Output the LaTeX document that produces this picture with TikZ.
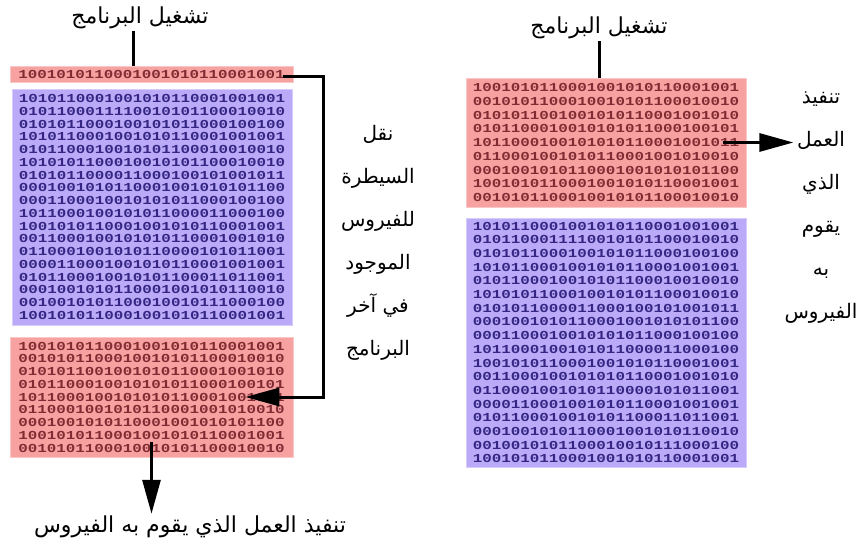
\documentclass[tikz,border=0pt]{standalone}
\usepackage{fontspec}
\usetikzlibrary{arrows.meta}
\TeXXeTstate=1
\newfontfamily\arabicfont[Script=Arabic]{DejaVu Sans}
\newfontfamily\bitfont[FakeStretch=1.3]{Liberation Mono}

\begin{document}
\begin{tikzpicture}[x=1pt,y=-1pt]
  \definecolor{hostbg}{RGB}{247,161,161}
  \definecolor{virbg}{RGB}{186,170,248}
  \definecolor{hostbit}{RGB}{128,44,50}
  \definecolor{virbit}{RGB}{52,38,130}
  \tikzstyle{host}=[fill=hostbg, draw=hostbg!60!white, line width=0.8pt, text=hostbit, align=center, inner sep=0pt, font={\bitfont\bfseries\fontsize{12.2}{12.75}\selectfont}]
  \tikzstyle{vir}=[fill=virbg, draw=virbg!60!white, line width=0.8pt, text=virbit, align=center, inner sep=0pt, font={\bitfont\bfseries\fontsize{12.2}{12.75}\selectfont}]
  \tikzstyle{say}=[align=center, inner sep=2pt, font={\arabicfont\fontsize{20}{43}\selectfont}]
  \tikzstyle{wire}=[line width=3pt]
  \tikzstyle{arr}=[wire, -{Triangle[length=34pt,width=18pt]}]

  \useasboundingbox (0,0) rectangle (864,545);

  % Left: the program with the virus appended, the first line jumps to it
  \node[say, font={\arabicfont\fontsize{22}{26}\selectfont}] (runL) at (140,18) {\beginR تشغيل البرنامج\endR};
  \node[host, minimum width=283pt, minimum height=16pt] (strip) at (151.5,74) {1001010110001001010110001001};
  \node[vir, minimum width=280pt, minimum height=236pt] (virL) at (152,207)
    {1010110001001010110001001001\\0101100011110010101100010010\\0101011000100101011000100100\\1010110001001010110001001001\\0101100010010101100010010010\\1010101100010010101100010010\\0101011000011000100101001011\\0001001010110001001010101100\\0001100010010101011000100100\\1011000100101011000011000100\\1001010110001001010110001001\\0011000100101010110001001010\\0110001001010110000101011001\\0000110001001010110001001001\\0101100010010101100011011001\\0001001010110001001010110010\\0010010101100010010111000100\\1001010110001001010110001001};
  \node[host, minimum width=283pt, minimum height=120pt] (codeL) at (151.5,397)
    {1001010110001001010110001001\\0010101100010010101100010010\\0101011001001010110001001010\\0101100010010101011000100101\\1011000100101010110001001011\\0110001001010110001001010010\\0001001010110001001010101100\\1001010110001001010110001001\\0010101100010010101100010010};
  \node[say] (moveL) at (378,243)
    {\beginR نقل\endR\\\beginR السيطرة\endR\\\beginR للفيروس\endR\\\beginR الموجود\endR\\\beginR في آخر\endR\\\beginR البرنامج\endR};
  \node[say, font={\arabicfont\fontsize{22}{26}\selectfont}] (doneL) at (190,527) {\beginR تنفيذ العمل الذي يقوم به الفيروس\endR};

  \draw[wire] ([xshift=-7pt]runL.south) -- ([xshift=-7pt]runL.south |- strip.north);
  \draw[arr] ([xshift=-10pt,yshift=-3pt]strip.east) -- ++(40pt,0) |- ([xshift=-48pt]codeL.east);
  \draw[arr] ([yshift=15pt]codeL.south) -- (codeL.south |- doneL.north);

  % Right: the virus sits in front of the program and runs first
  \node[say, font={\arabicfont\fontsize{22}{26}\selectfont}] (runR) at (599,28) {\beginR تشغيل البرنامج\endR};
  \node[host, minimum width=280pt, minimum height=129pt, font={\bitfont\bfseries\fontsize{12.2}{13.75}\selectfont}] (codeR) at (606,142.5)
    {1001010110001001010110001001\\0010101100010010101100010010\\0101011001001010110001001010\\0101100010010101011000100101\\1011000100101010110001001011\\0110001001010110001001010010\\0001001010110001001010101100\\1001010110001001010110001001\\0010101100010010101100010010};
  \node[vir, minimum width=280pt, minimum height=249pt, font={\bitfont\bfseries\fontsize{12.2}{13.7}\selectfont}] (virR) at (606,342.5)
    {1010110001001010110001001001\\0101100011110010101100010010\\0101011000100101011000100100\\1010110001001010110001001001\\0101100010010101100010010010\\1010101100010010101100010010\\0101011000011000100101001011\\0001001010110001001010101100\\0001100010010101011000100100\\1011000100101011000011000100\\1001010110001001010110001001\\0011000100101010110001001010\\0110001001010110000101011001\\0000110001001010110001001001\\0101100010010101100011011001\\0001001010110001001010110010\\0010010101100010010111000100\\1001010110001001010110001001};
  \node[say] (doneR) at (821,208)
    {\beginR تنفيذ\endR\\\beginR العمل\endR\\\beginR الذي\endR\\\beginR يقوم\endR\\\beginR به\endR\\\beginR الفيروس\endR};
  \coordinate (tipR) at ([xshift=47pt]codeR.east);

  \draw[wire] (runR.south) -- (runR.south |- codeR.north);
  \draw[arr] ([xshift=-23pt]codeR.east) -- (tipR);
\end{tikzpicture}
\end{document}
